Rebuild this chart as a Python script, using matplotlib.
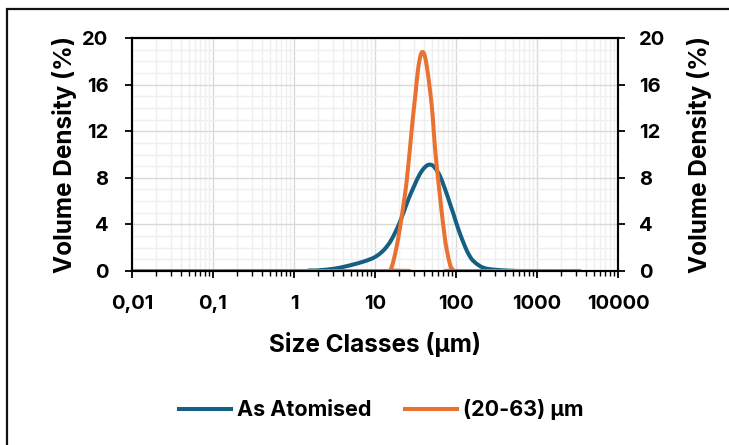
#!/usr/bin/env python3
# -*- coding: utf-8 -*-
"""
Volume density vs size classes (log x), two powder lots
"""

# %% imports
import matplotlib
matplotlib.use("Agg")
import numpy as np
import matplotlib.pyplot as plt
import matplotlib.patches as patches
from matplotlib.path import Path
from matplotlib.lines import Line2D
from matplotlib.ticker import FixedLocator, FixedFormatter, LogLocator, NullFormatter

# %% data
# As Atomised
sizeAtom = [0.01, 1, 1.5, 2, 3, 4, 5.4, 7, 8.5, 10, 12, 14, 16, 18, 20, 23, 26, 30, 35,
            40, 45, 50, 55, 63, 70, 77, 85, 93, 100, 112, 125, 136, 150, 164, 190,
            218, 260, 317, 400, 510, 700, 3500]
densAtom = [0, 0, 0.02, 0.06, 0.18, 0.34, 0.56, 0.78, 0.98, 1.2, 1.6, 2.1, 2.7, 3.4,
            4.1, 5.2, 6.2, 7.2, 8.2, 8.8, 9.1, 9.1, 8.85, 8.2, 7.4, 6.6, 5.7, 4.9, 4.2,
            3.2, 2.35, 1.75, 1.2, 0.86, 0.5, 0.28, 0.16, 0.1, 0.05, 0.02, 0, 0]

# (20-63) um sieved fraction
sizeSieve = [0.01, 14.5, 15.5, 16.8, 18.5, 20, 21.5, 23, 24.5, 27, 29, 31.6, 34, 36.5,
             38.6, 41, 44, 47, 50, 52.5, 55, 59, 63, 66, 72, 77, 84, 88, 94, 100, 3500]
densSieve = [0, 0, 0.1, 0.8, 2.1, 3.4, 4.8, 6.2, 7.6, 10.5, 12.8, 15.2, 17.3, 18.5,
             18.8, 18.5, 17.4, 15.9, 14.3, 12.5, 10.6, 8.4, 6.6, 5.3, 3.1, 1.8, 0.6,
             0.25, 0.05, 0, 0]

xTicks = [0.01, 0.1, 1, 10, 100, 1000, 10000]
xTickLabels = ["0,01", "0,1", "1", "10", "100", "1000", "10000"]
yTicks = [0, 4, 8, 12, 16, 20]
seriesNames = ["As Atomised", "(20-63) µm"]

# %% style
blue = "#156082"
orange = "#E97132"
plt.rcParams["font.family"] = ["Inter", "DejaVu Sans"]
plt.rcParams["font.weight"] = "bold"


def smoothPath(xs, ys):
    # spreadsheet-like smoothed line: Catmull-Rom bezier in (log x, y)
    lx = np.log10(xs)
    y = np.asarray(ys, dtype=float)
    n = len(lx)
    verts = [(xs[0], y[0])]
    codes = [Path.MOVETO]
    for i in range(n - 1):
        i0 = max(i - 1, 0)
        i3 = min(i + 2, n - 1)
        c1x = lx[i] + (lx[i+1] - lx[i0]) / 6
        c1y = y[i] + (y[i+1] - y[i0]) / 6
        c2x = lx[i+1] - (lx[i3] - lx[i]) / 6
        c2y = y[i+1] - (y[i3] - y[i]) / 6
        verts += [(10**c1x, c1y), (10**c2x, c2y), (xs[i+1], y[i+1])]
        codes += [Path.CURVE4] * 3
    return Path(verts, codes)


fig = plt.figure(figsize=(7.29, 4.45), dpi=100)
ax = fig.add_axes([132/729, 1-271/445, (618-132)/729, (271-38)/445])

# outer chart frame (cut off on right and bottom)
frame = patches.Rectangle((7/729, -0.2), 1.3, 1.2 - 9/445, transform=fig.transFigure,
                          fill=False, edgecolor="#111111", linewidth=1.6, clip_on=False)
fig.patches.append(frame)

for xs, ys, col, z in [(sizeAtom, densAtom, blue, 3), (sizeSieve, densSieve, orange, 4)]:
    pp = patches.PathPatch(smoothPath(xs, ys), facecolor="none", edgecolor=col,
                           lw=2.9, zorder=z, capstyle="butt", joinstyle="round")
    ax.add_patch(pp)

ax.set_xscale("log")
ax.set_xlim(0.01, 10000)
ax.set_ylim(0, 20)

ax.xaxis.set_major_locator(FixedLocator(xTicks))
ax.xaxis.set_major_formatter(FixedFormatter(xTickLabels))
ax.xaxis.set_minor_locator(LogLocator(base=10, subs=range(2, 10), numticks=20))
ax.xaxis.set_minor_formatter(NullFormatter())
ax.set_yticks(yTicks)
ax.set_yticks(range(0, 21), minor=True)

# gridlines
ax.grid(which="major", axis="x", color="#d9d9d9", lw=1.0, zorder=0)
ax.grid(which="minor", axis="x", color="#efefef", lw=1.0, zorder=0)
ax.grid(which="major", axis="y", color="#d9d9d9", lw=1.0, zorder=0)
ax.grid(which="minor", axis="y", color="#efefef", lw=1.0, zorder=0)
ax.set_axisbelow(True)

for sp in ax.spines.values():
    sp.set_color("black")
    sp.set_linewidth(1.5)

ax.tick_params(axis="x", which="major", direction="out", length=5, width=1.3,
               labelsize=14.5, pad=12)
ax.tick_params(axis="x", which="minor", direction="out", length=3.5, width=1.0)
ax.tick_params(axis="y", which="major", direction="out", length=5, width=1.3,
               labelsize=14.5, pad=12)
ax.tick_params(axis="y", which="minor", length=0)

ax.set_xlabel("Size Classes (µm)", fontsize=17.5, fontweight="bold", labelpad=14)
ax.set_ylabel("Volume Density (%)", fontsize=17.5, fontweight="bold", labelpad=4)

# right hand axis mirrors the left
ax2 = ax.twinx()
ax2.set_ylim(0, 20)
ax2.set_yticks(yTicks)
ax2.tick_params(axis="y", which="major", direction="out", length=5, width=1.3,
                labelsize=14.5, pad=10)
for sp in ax2.spines.values():
    sp.set_color("black")
    sp.set_linewidth(1.5)
ax2.set_ylabel("Volume Density (%)", fontsize=17.5, fontweight="bold", labelpad=16,
               rotation=90)

# legend at bottom
h = [Line2D([], [], color=blue, lw=2.9), Line2D([], [], color=orange, lw=2.9)]
leg = fig.legend(h, seriesNames, loc="center", bbox_to_anchor=(381/729, 1-410/445),
                 ncol=2, frameon=False, handlelength=2.45, columnspacing=1.55,
                 handletextpad=0.25, prop={"weight": "bold", "size": 15.5})

fig.savefig("out.png", dpi=100)
